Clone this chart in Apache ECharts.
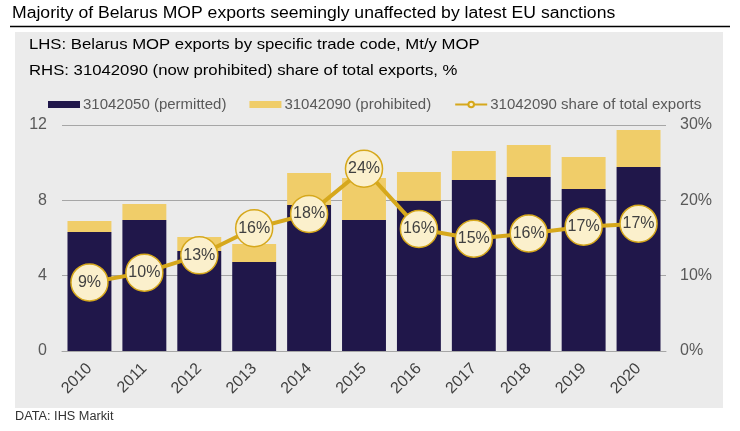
<!DOCTYPE html>
<html>
<head>
<meta charset="utf-8">
<script src="https://cdn.jsdelivr.net/npm/echarts@6/dist/echarts.min.js"></script>
<style>
  html, body { margin: 0; padding: 0; background: #fff; }
  #chart { width: 740px; height: 431px; }
</style>
</head>
<body>
<div id="chart"></div>
<script>
var years = ['2010', '2011', '2012', '2013', '2014', '2015', '2016', '2017', '2018', '2019', '2020'];
// Mt/y MOP
var permitted = [6.32, 6.96, 5.31, 4.73, 7.75, 6.96, 7.98, 9.08, 9.24, 8.6, 9.77];
var prohibited = [0.58, 0.85, 0.74, 0.95, 1.7, 2.23, 1.52, 1.54, 1.7, 1.7, 1.97];
// share of total exports, %
var share = [9.1, 10.4, 12.7, 16.3, 18.2, 24.2, 16.2, 14.9, 15.6, 16.5, 16.9];

var leftTicks = { min: 0, max: 12, interval: 4 };
var rightTicks = { min: 0, max: 30, interval: 10 };

var font = 'Liberation Sans, Arial, sans-serif';
var navy = '#20174a';
var sand = '#f0cd69';
var gold = '#d6a81c';

var chart = echarts.init(document.getElementById('chart'), null, { renderer: 'canvas' });

// text in the original is a little wider than plain Arial, so stretch it
function stretchedText(str, x, y, size, sx, color) {
    return {
        type: 'text',
        x: x,
        y: y,
        scaleX: sx,
        style: {
            text: str,
            fill: color,
            font: size + 'px ' + font,
            verticalAlign: 'middle'
        }
    };
}

var option = {
    backgroundColor: '#fff',
    textStyle: { fontFamily: font },
    animation: false,
    graphic: [
        {
            type: 'rect',
            z: -10,
            shape: { x: 15, y: 32, width: 708, height: 376 },
            style: { fill: '#ebebeb' }
        },
        {
            type: 'line',
            shape: { x1: 10, y1: 26.5, x2: 730, y2: 26.5 },
            style: { stroke: '#000', lineWidth: 1.5 }
        },
        stretchedText('Majority of Belarus MOP exports seemingly unaffected by latest EU sanctions', 12, 14, 16, 1.1, '#000'),
        stretchedText('LHS: Belarus MOP exports by specific trade code, Mt/y MOP', 29, 45, 14.5, 1.153, '#000'),
        stretchedText('RHS: 31042090 (now prohibited) share of total exports, %', 29, 71, 14.5, 1.153, '#000'),
        stretchedText('DATA: IHS Markit', 15, 417, 12, 1.06, '#333')
    ],
    legend: {
        left: 43,
        top: 92,
        itemWidth: 32,
        itemHeight: 7,
        itemGap: 23,
        textStyle: { color: '#595959', fontSize: 15, padding: [0, 0, 0, -2] },
        data: [
            { name: '31042050 (permitted)', icon: 'rect' },
            { name: '31042090 (prohibited)', icon: 'rect' },
            { name: '31042090 share of total exports' }
        ]
    },
    grid: { left: 62, right: 74, top: 125, bottom: 80 },
    xAxis: {
        type: 'category',
        data: years,
        axisLine: { lineStyle: { color: '#a6a6a6' } },
        axisTick: { show: false },
        axisLabel: { rotate: 45, color: '#404040', fontSize: 16, margin: 15 }
    },
    yAxis: [
        {
            type: 'value',
            min: leftTicks.min,
            max: leftTicks.max,
            interval: leftTicks.interval,
            axisLine: { show: false },
            axisTick: { show: false },
            splitLine: { lineStyle: { color: '#a6a6a6' } },
            axisLabel: { color: '#595959', fontSize: 16, margin: 15 }
        },
        {
            type: 'value',
            min: rightTicks.min,
            max: rightTicks.max,
            interval: rightTicks.interval,
            axisLine: { show: false },
            axisTick: { show: false },
            splitLine: { show: false },
            axisLabel: { color: '#595959', fontSize: 16, margin: 14, formatter: '{value}%' }
        }
    ],
    series: [
        {
            name: '31042050 (permitted)',
            type: 'bar',
            stack: 'exports',
            barCategoryGap: '20%',
            itemStyle: { color: navy },
            data: permitted
        },
        {
            name: '31042090 (prohibited)',
            type: 'bar',
            stack: 'exports',
            itemStyle: { color: sand },
            data: prohibited
        },
        {
            name: '31042090 share of total exports',
            type: 'line',
            yAxisIndex: 1,
            z: 5,
            symbol: 'circle',
            symbolSize: 37,
            lineStyle: { color: gold, width: 4 },
            itemStyle: { color: '#fbf0cc', borderColor: gold, borderWidth: 1.5 },
            label: {
                show: true,
                position: 'inside',
                color: '#404040',
                fontSize: 16,
                formatter: function (p) { return Math.round(p.value) + '%'; }
            },
            data: share
        }
    ]
};

chart.setOption(option);
</script>
</body>
</html>
